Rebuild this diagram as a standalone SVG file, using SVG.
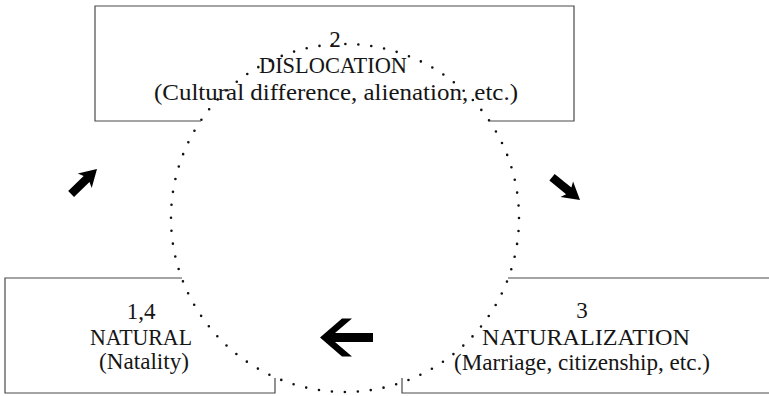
<svg xmlns="http://www.w3.org/2000/svg" width="769" height="396" viewBox="0 0 769 396">
<style>
.frame{fill:none;stroke:#4a4a4a;stroke-width:1.2}
.lbl{font-family:"Liberation Serif","DejaVu Serif",serif;font-size:23px;fill:#151515;text-anchor:middle}
.dots{fill:none;stroke:#111;stroke-width:2.6;stroke-linecap:round;stroke-dasharray:0 13.016}
.arrow{fill:#000}
</style>
<defs>
<polygon id="bigArrow" points="0,0 22,-19 32,-19 15,-4.5 53,-4.5 53,4.5 15,4.5 32,19 22,19"/>
<polygon id="smallArrow" points="0,0 -17,-10 -14.5,-4.2 -36,-4.2 -36,4.2 -14.5,4.2 -17,10"/>
</defs>
<g id="cycle">
<circle class="dots" cx="345" cy="218" r="174"/>
</g>
<g id="node-dislocation">
<path class="frame" d="M201,121 H95 V6 H574 V121 H490"/>
<text class="lbl" x="335" y="47">2</text>
<text class="lbl" x="333" y="73" textLength="148" lengthAdjust="spacingAndGlyphs">DISLOCATION</text>
<text class="lbl" x="336" y="100" textLength="364" lengthAdjust="spacingAndGlyphs">(Cultural difference, alienation, etc.)</text>
</g>
<g id="node-natural">
<path class="frame" d="M182,278 H5 V393 H275 V378"/>
<text class="lbl" x="141" y="319">1,4</text>
<text class="lbl" x="141" y="345" textLength="102" lengthAdjust="spacingAndGlyphs">NATURAL</text>
<text class="lbl" x="144" y="369" textLength="90" lengthAdjust="spacingAndGlyphs">(Natality)</text>
</g>
<g id="node-naturalization">
<path class="frame" d="M508,278 H769 M769,393 H402 V378"/>
<text class="lbl" x="582" y="318">3</text>
<text class="lbl" x="586" y="345" textLength="208" lengthAdjust="spacingAndGlyphs">NATURALIZATION</text>
<text class="lbl" x="582" y="370" textLength="256" lengthAdjust="spacingAndGlyphs">(Marriage, citizenship, etc.)</text>
</g>
<g id="connectors">
<use class="arrow" href="#bigArrow" x="320" y="337.5"/>
<use class="arrow" href="#smallArrow" transform="translate(97,169) rotate(-44)"/>
<use class="arrow" href="#smallArrow" transform="translate(580,200) rotate(39)"/>
</g>
</svg>
